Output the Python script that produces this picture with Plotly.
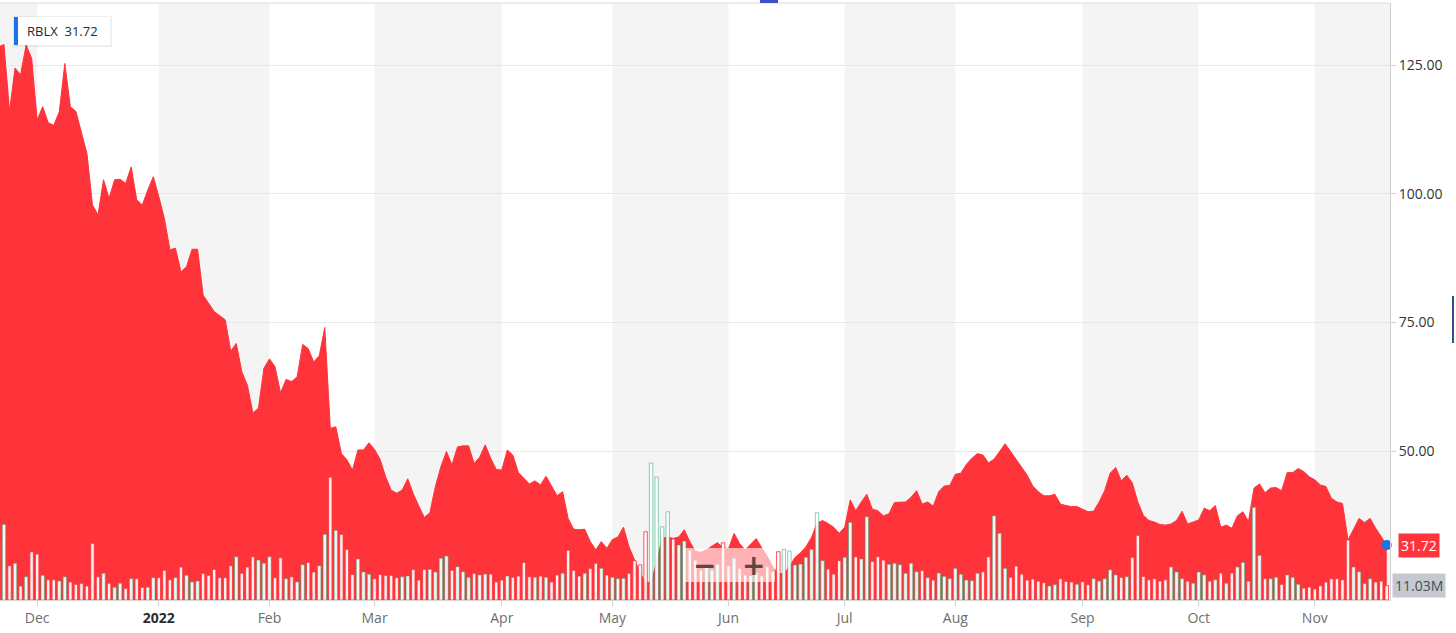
import pandas as pd
import plotly.graph_objects as go

# ---------------- data ----------------
HOLIDAYS = ["2021-11-25", "2021-12-24", "2022-01-17", "2022-02-21", "2022-04-15",
            "2022-05-30", "2022-06-20", "2022-07-04", "2022-09-05"]
dates = [d.strftime("%Y-%m-%d") for d in pd.bdate_range("2021-11-19", "2022-11-18")
         if d.strftime("%Y-%m-%d") not in HOLIDAYS]

price = [
    128.5, 129.0, 116.0, 124.4, 123.1, 128.9, 126.3, 114.3, 116.9, 113.8,
    113.3, 115.9, 125.3, 116.9, 116.0, 111.7, 107.8, 97.8, 95.9, 102.7,
    99.1, 102.7, 102.8, 102.0, 105.2, 98.8, 97.8, 100.7, 103.3, 99.4,
    95.2, 89.1, 89.4, 84.8, 85.8, 89.2, 89.2, 80.3, 78.7, 77.1,
    76.3, 75.5, 69.4, 70.9, 65.4, 62.8, 57.4, 58.3, 66.1, 67.9,
    66.4, 61.3, 63.9, 63.5, 64.4, 70.7, 69.9, 67.3, 68.5, 74.0,
    54.4, 54.7, 49.5, 48.3, 46.3, 50.2, 50.2, 51.6, 50.3, 48.4,
    45.0, 42.4, 41.8, 42.4, 44.6, 41.7, 39.3, 37.1, 38.0, 43.1,
    47.0, 49.9, 47.3, 50.8, 51.0, 51.0, 47.6, 48.8, 51.2, 48.6,
    46.4, 46.3, 50.2, 49.2, 45.8, 44.7, 43.6, 44.2, 43.4, 45.1,
    43.1, 41.3, 42.1, 36.9, 34.8, 34.7, 34.8, 32.4, 30.8, 32.4,
    31.1, 32.8, 33.3, 35.2, 31.4, 29.0, 26.3, 24.5, 24.5, 28.5,
    33.0, 33.3, 33.0, 33.3, 34.7, 32.4, 30.5, 30.3, 30.8, 31.5,
    32.2, 31.2, 31.0, 34.0, 32.0, 30.8, 31.8, 33.0, 31.2, 29.5,
    27.5, 26.2, 26.2, 27.5, 29.3, 30.2, 31.4, 33.2, 36.0, 36.5,
    35.9, 35.2, 34.0, 35.2, 40.5, 38.4, 40.1, 41.6, 38.7, 38.4,
    37.4, 37.8, 40.0, 40.1, 40.1, 41.0, 42.3, 39.7, 40.1, 39.3,
    42.1, 43.2, 43.3, 45.5, 45.7, 47.4, 48.6, 49.5, 49.2, 47.7,
    48.4, 49.9, 51.4, 49.9, 48.3, 46.8, 45.3, 43.2, 42.1, 41.3,
    41.3, 41.6, 39.7, 39.4, 39.2, 39.2, 38.7, 38.2, 38.3, 40.1,
    42.3, 45.7, 46.8, 44.2, 45.3, 43.8, 40.1, 37.5, 36.5, 36.2,
    35.7, 35.6, 35.8, 36.5, 38.3, 35.8, 36.2, 36.6, 38.9, 38.4,
    39.4, 35.2, 35.6, 35.0, 37.4, 38.2, 36.3, 42.8, 43.6, 41.9,
    42.8, 42.9, 42.3, 45.8, 45.8, 46.6, 46.0, 45.0, 44.4, 43.4,
    43.1, 40.8, 40.1, 39.8, 32.7, 34.8, 36.9, 36.1, 36.9, 35.0,
    33.3, 31.72]

volume_m = [
    46.0, 58.3, 26.4, 28.3, 10.8, 17.9, 37.2, 35.4, 19.0, 15.6,
    15.6, 14.6, 17.9, 13.9, 12.1, 12.9, 10.8, 43.7, 17.9, 20.6,
    12.9, 9.8, 12.9, 9.0, 16.4, 16.4, 9.8, 9.8, 17.2, 17.2,
    22.9, 15.6, 17.2, 25.4, 19.0, 13.9, 14.6, 20.6, 19.0, 23.6,
    17.2, 17.2, 26.4, 33.3, 20.6, 25.4, 33.3, 30.8, 28.3, 33.3,
    17.2, 32.6, 16.4, 17.9, 13.9, 27.2, 29.0, 21.6, 26.4, 50.6,
    94.7, 53.7, 50.6, 39.0, 19.8, 31.6, 21.6, 19.8, 16.4, 19.8,
    19.0, 19.0, 17.2, 17.9, 18.5, 23.6, 15.4, 23.6, 23.6, 21.6,
    32.1, 33.9, 22.9, 25.6, 21.8, 17.5, 20.6, 19.3, 20.0, 20.0,
    13.9, 15.4, 18.5, 17.5, 18.5, 29.0, 17.9, 17.5, 18.5, 17.5,
    13.9, 19.3, 20.6, 38.3, 22.9, 18.5, 20.6, 24.4, 28.3, 24.4,
    19.3, 17.5, 16.4, 16.7, 20.6, 30.3, 27.0, 52.6, 105.5, 94.7,
    56.4, 68.0, 47.0, 42.4, 45.4, 38.5, 30.8, 23.1, 25.6, 23.1,
    27.5, 44.1, 26.4, 32.1, 24.4, 19.3, 18.5, 20.6, 18.5, 25.6,
    21.8, 37.2, 39.0, 37.7, 27.0, 27.7, 32.9, 39.0, 67.2, 30.3,
    23.9, 20.0, 30.3, 32.9, 59.8, 33.3, 31.6, 64.1, 29.8, 33.3,
    30.8, 27.5, 28.3, 27.2, 20.6, 28.3, 21.8, 22.6, 17.2, 15.4,
    20.8, 18.2, 16.4, 24.4, 19.8, 15.4, 14.9, 20.6, 21.8, 33.3,
    64.9, 51.4, 24.4, 17.5, 26.2, 20.0, 15.4, 16.2, 14.6, 13.3,
    10.8, 11.8, 16.4, 14.4, 13.9, 12.1, 14.1, 11.8, 16.4, 14.6,
    16.4, 23.3, 19.3, 17.5, 17.9, 32.9, 49.8, 18.2, 15.6, 16.4,
    14.6, 15.6, 25.4, 21.6, 16.4, 14.6, 12.9, 21.6, 19.3, 14.6,
    15.6, 20.8, 12.9, 20.8, 25.4, 29.0, 14.6, 71.4, 34.4, 16.4,
    16.4, 17.5, 12.1, 19.3, 17.5, 12.1, 9.2, 10.0, 8.5, 11.0,
    13.9, 16.4, 16.4, 15.6, 46.2, 25.4, 21.8, 12.9, 16.4, 13.9,
    14.6, 11.03]

month_labels = ["Dec", "2022", "Feb", "Mar", "Apr", "May", "Jun",
                "Jul", "Aug", "Sep", "Oct", "Nov"]
price_ticks = [50, 75, 100, 125]
ticker = "RBLX"

n = min(len(dates), len(price), len(volume_m))
dates, price, volume_m = dates[:n], price[:n], volume_m[:n]

# ---------------- derived ----------------
month_starts = [0] + [i for i in range(1, n) if dates[i][5:7] != dates[i - 1][5:7]]
tick_vals = [dates[i] for i in month_starts[1:]]
tick_text = []
for lab in month_labels[:len(tick_vals)]:
    if lab.isdigit():
        tick_text.append("<b><span style='color:#2b2b2b'>" + lab + "</span></b>")
    else:
        tick_text.append(lab)

X0, X1 = 0.28, n - 0.41
UP = "rgba(40,170,120,0.55)"
DOWN = "rgba(255,51,58,0.85)"
bar_line = [UP if i > 0 and price[i] >= price[i - 1] else DOWN for i in range(n)]

W, H = 1456, 633
ML, MR, MT, MB = 0, 66, 3, 33
PW, PH = W - ML - MR, H - MT - MB


def px(x):
    return x / PW


def py(y):
    return (PH + MT - y) / PH


shapes = []
for k in range(0, len(month_starts), 2):
    a = month_starts[k] if k > 0 else X0 - 1
    b = month_starts[k + 1] if k + 1 < len(month_starts) else X1 + 1
    shapes.append(dict(type="rect", xref="x", yref="paper", x0=a, x1=b, y0=0, y1=1,
                       fillcolor="#f4f4f4", line=dict(width=0), layer="below"))
shapes.append(dict(type="line", xref="paper", yref="paper", x0=0, x1=1, y0=1, y1=1,
                   line=dict(color="#dcdcdc", width=1)))
shapes.append(dict(type="rect", xref="paper", yref="paper", x0=px(13), x1=px(112),
                   y0=py(47), y1=py(16), fillcolor="rgba(0,0,0,0.06)", line=dict(width=0), layer="above"))
shapes.append(dict(type="rect", xref="paper", yref="paper", x0=px(14), x1=px(110),
                   y0=py(45), y1=py(17), fillcolor="white", line=dict(width=0), layer="above"))
shapes.append(dict(type="rect", xref="paper", yref="paper", x0=px(14), x1=px(18),
                   y0=py(45), y1=py(17), fillcolor="#1a73e8", line=dict(width=0), layer="above"))
shapes.append(dict(type="rect", xref="paper", yref="paper", x0=px(683), x1=px(775),
                   y0=py(582), y1=py(548), fillcolor="rgba(255,255,255,0.62)",
                   line=dict(width=0), layer="above"))
shapes.append(dict(type="rect", xref="paper", yref="paper", x0=px(760), x1=px(778),
                   y0=1, y1=py(0), fillcolor="#3f4ec9", line=dict(width=0), layer="above"))
shapes.append(dict(type="line", xref="paper", yref="paper", x0=px(1453), x1=px(1453),
                   y0=py(343), y1=py(296), line=dict(color="#35508f", width=2), layer="above"))

fig = go.Figure()
fig.add_trace(go.Scatter(x=dates, y=price, mode="lines", fill="tozeroy",
                         line=dict(color="#ff333a", width=1), fillcolor="#ff333a",
                         hoverinfo="skip", showlegend=False))
fig.add_trace(go.Bar(x=dates, y=volume_m, yaxis="y2",
                     marker=dict(color="rgba(255,255,255,0.93)", line=dict(color=bar_line, width=1)),
                     hoverinfo="skip", showlegend=False))
fig.add_trace(go.Scatter(x=[dates[-1]], y=[price[-1]], mode="markers",
                         marker=dict(color="#1a73e8", size=10), cliponaxis=False,
                         hoverinfo="skip", showlegend=False))

annotations = [
    dict(xref="paper", yref="paper", x=px(25), y=py(31), xanchor="left", yanchor="middle",
         text=ticker + "\u00a0\u00a0" + f"{price[-1]:.2f}", showarrow=False,
         font=dict(size=13, color="#232a31")),
    dict(xref="paper", yref="y", x=1, y=price[-1], xanchor="left", yanchor="middle", xshift=8,
         text=f"{price[-1]:.2f}", showarrow=False, bgcolor="#ff333a", borderpad=2,
         font=dict(size=14, color="white")),
    dict(xref="paper", yref="y2", x=1, y=volume_m[-1], xanchor="left", yanchor="middle", xshift=2,
         text=f"{volume_m[-1]:.2f}M", showarrow=False, bgcolor="#c6cad0", borderpad=2,
         font=dict(size=14, color="#464e56")),
    dict(xref="paper", yref="paper", x=px(705), y=py(565), xanchor="center", yanchor="middle",
         text="<b>\u2212</b>", showarrow=False,
         font=dict(size=28, color="#5a4848", family="DejaVu Sans")),
    dict(xref="paper", yref="paper", x=px(753), y=py(565), xanchor="center", yanchor="middle",
         text="<b>+</b>", showarrow=False,
         font=dict(size=28, color="#5a4848", family="DejaVu Sans")),
]

fig.update_layout(
    width=W, height=H,
    margin=dict(l=ML, r=MR, t=MT, b=MB),
    paper_bgcolor="white", plot_bgcolor="white",
    font=dict(family="Open Sans, Arial, sans-serif", size=14, color="#333"),
    bargap=0.38,
    shapes=shapes,
    annotations=annotations,
    xaxis=dict(type="category", range=[X0, X1], tickvals=tick_vals, ticktext=tick_text,
               showgrid=False, ticks="outside", ticklen=5, tickcolor="#cfcfcf",
               showline=True, linecolor="#d6d6d6", linewidth=1,
               tickfont=dict(size=14, color="#6e6e6e"), zeroline=False),
    yaxis=dict(side="right", range=[21.05, 137.05], tickvals=price_ticks,
               ticktext=[f"{v:.2f}" for v in price_ticks], showgrid=True,
               gridcolor="#e8e8e8", gridwidth=1, zeroline=False,
               showline=True, linecolor="#d0d0d0", linewidth=1,
               ticks="outside", ticklen=5, tickcolor="#d0d0d0",
               tickfont=dict(size=14, color="#333")),
    yaxis2=dict(overlaying="y", range=[0, 460], visible=False, showgrid=False),
)

fig.write_html("out.html", config={"displayModeBar": False},
               post_script="document.body.style.margin='0';document.body.style.overflow='hidden';")
